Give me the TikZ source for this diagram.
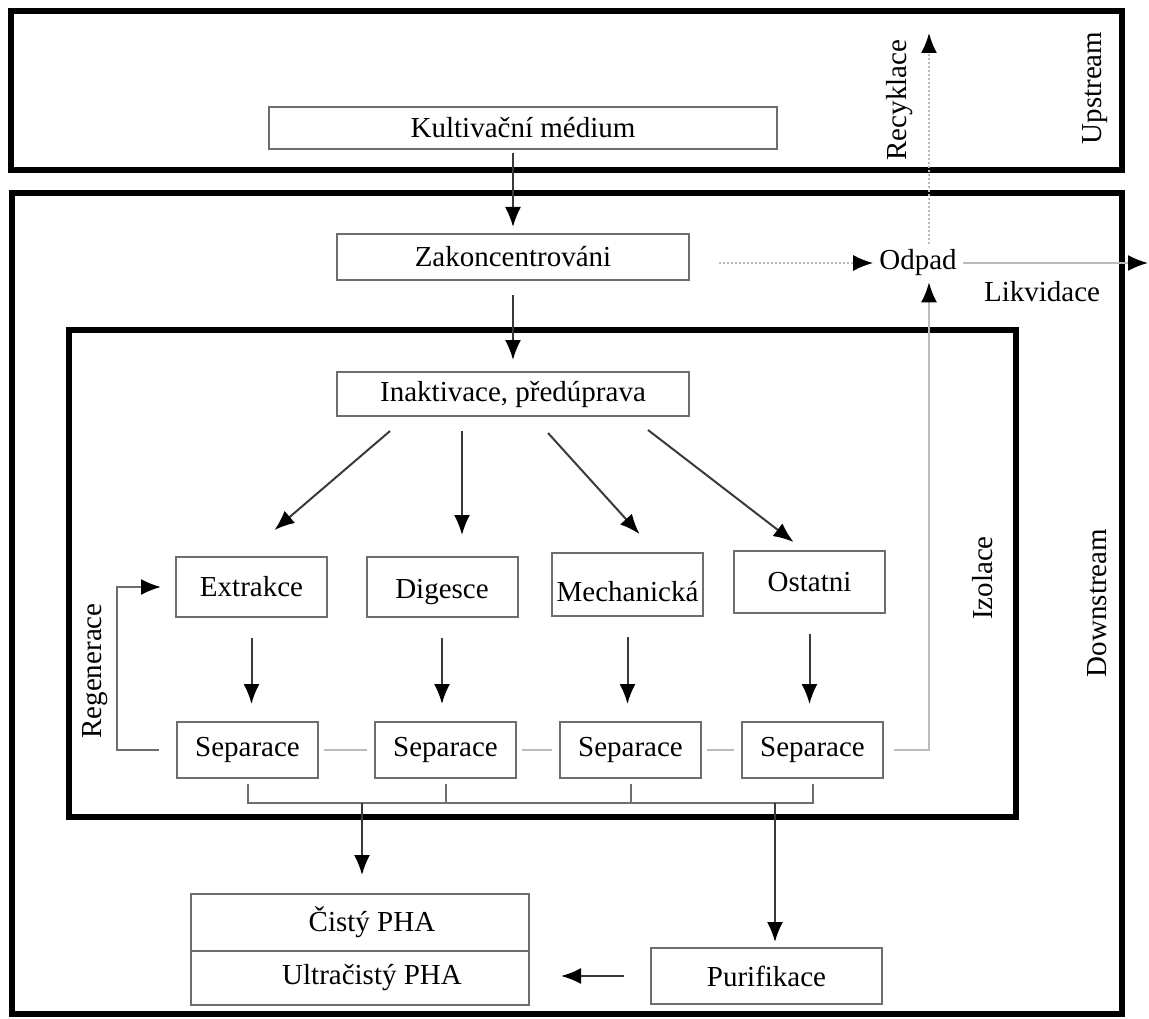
\documentclass[tikz,border=0pt]{standalone}
\usepackage{fontspec}
\setmainfont{Liberation Serif}
\usetikzlibrary{arrows.meta, positioning}
\definecolor{boxgray}{HTML}{6E6E6E}
\definecolor{palegray}{HTML}{BBBBBB}
\definecolor{arrowgray}{HTML}{3A3A3A}

\begin{document}
\begin{tikzpicture}[
    x=1pt, y=-1pt,
    font=\fontsize{29}{34}\selectfont,
    box/.style={draw=boxgray, line width=2pt, rectangle, inner sep=0pt, minimum width=151pt, minimum height=60pt},
    frame/.style={draw=black, line width=6pt},
    arrow/.style={-{Latex[length=20pt,width=16pt,color=black]}, line width=2pt, draw=arrowgray},
    palearrow/.style={-{Latex[length=20pt,width=16pt,color=black]}, line width=2pt, draw=palegray},
    dotarrow/.style={palearrow, dash pattern=on 2pt off 2pt},
    link/.style={draw=boxgray, line width=2pt},
    pale/.style={draw=palegray, line width=2pt},
    sidelabel/.style={rotate=90, inner sep=0pt}
]
\useasboundingbox (0,0) rectangle (1149,1019);

% Frames
\draw[frame] (11,11) rectangle (1122,170);
\draw[frame] (12,193) rectangle (1122,1014);
\draw[frame] (69,330) rectangle (1016,817);

% Nodes
\node (kult) [box, minimum width=508pt, minimum height=42pt] at (523,128) {Kultivační médium};
\node (zak) [box, minimum width=352pt, minimum height=46pt] at (513,257) {Zakoncentrováni};
\node (inakt) [box, minimum width=352pt, minimum height=44pt] at (513,394) {Inaktivace, předúprava};

\node (extr) [box] at (251.5,587) {Extrakce};
\node (dig) [box, text height=24pt, text depth=2pt] at (442,587) {Digesce};
\node (mech) [box, minimum height=63pt, text height=34pt, text depth=0pt] at (627.5,584.5) {Mechanická};
\node (ost) [box, minimum height=62pt] at (809.5,582) {Ostatni};

\node (sep1) [box, minimum width=141pt, minimum height=56pt] at (247.5,750) {Separace};
\node (sep2) [box, minimum width=141pt, minimum height=56pt] at (445.5,750) {Separace};
\node (sep3) [box, minimum width=141pt, minimum height=56pt] at (630.5,750) {Separace};
\node (sep4) [box, minimum width=141pt, minimum height=56pt] at (812.5,750) {Separace};

\node (cisty) [box, minimum width=338pt, minimum height=57pt] at (360,922.5) {\hspace*{24pt}Čistý PHA};
\node (ultra) [box, minimum width=338pt, minimum height=54pt, below=-2pt of cisty] {\hspace*{24pt}Ultračistý PHA};
\node (puri) [box, minimum width=231pt, minimum height=56pt] at (766.5,976) {Purifikace};

\node (odpad) [inner sep=6pt] at (918,263) {Odpad};
\node (likv) at (1042,292) {Likvidace};

% Side labels
\node (recl) [sidelabel] at (900,100) {Recyklace};
\node (upl) [sidelabel] at (1095,88) {Upstream};
\node (downl) [sidelabel] at (1097,603) {Downstream};
\node (izol) [sidelabel] at (983,578) {Izolace};
\node (regl) [sidelabel] at (95,671) {Regenerace};

\coordinate (rec) at (929,33);
\coordinate (out) at (1148,263);
\coordinate (brk) at (0,803);
\coordinate (b1) at (362,803);
\coordinate (b2) at (775,803);

% Connections
\draw[arrow] ([yshift=-3pt]kult.south -| zak.north) -- ([yshift=6pt]zak.north);
\draw[arrow] ([yshift=-14pt]zak.south) -- ([yshift=11pt]inakt.north);

\draw[arrow] ([xshift=-123pt,yshift=-14pt]inakt.south) -- ([xshift=23pt,yshift=26pt]extr.north);
\draw[arrow] ([xshift=-51pt,yshift=-14pt]inakt.south) -- ([xshift=20pt,yshift=21pt]dig.north);
\draw[arrow] ([xshift=35pt,yshift=-16pt]inakt.south) -- ([xshift=12pt,yshift=18pt]mech.north);
\draw[arrow] ([xshift=135pt,yshift=-13pt]inakt.south) -- ([xshift=-16pt,yshift=8pt]ost.north);

\foreach \a/\b in {extr/sep1, dig/sep2, mech/sep3, ost/sep4}
    \draw[arrow] ([yshift=-20pt]\a.south) -- ([yshift=17pt]\b.north -| \a.south);

\draw[pale] ([xshift=5pt]sep1.east) -- ([xshift=-7pt]sep2.west);
\draw[pale] ([xshift=5pt]sep2.east) -- ([xshift=-7pt]sep3.west);
\draw[pale] ([xshift=5pt]sep3.east) -- ([xshift=-7pt]sep4.west);

\draw[link, -{Latex[length=20pt,width=16pt,color=black]}] ([xshift=-17pt]sep1.west) -- ++(-42,0) |- ([xshift=-14pt]extr.west);

\draw[link] ([yshift=-5pt]sep1.south) -- (sep1.south |- brk) -- (sep4.south |- brk) -- ([yshift=-5pt]sep4.south);
\draw[link] ([yshift=-5pt]sep2.south) -- (sep2.south |- brk);
\draw[link] ([yshift=-5pt]sep3.south) -- (sep3.south |- brk);
\draw[arrow] (b1) -- ([yshift=18pt]cisty.north -| b1);
\draw[arrow] (b2) -- ([yshift=5pt]puri.north -| b2);
\draw[arrow] ([xshift=-26pt]puri.west) -- ([xshift=31pt]ultra.east |- puri.west);

\draw[dotarrow] ([xshift=29pt]zak.east |- odpad.west) -- (odpad.west);
\draw[palearrow] (odpad.east) -- (out);
\draw[dotarrow] (odpad.north -| rec) -- (rec);
\draw[palearrow] ([xshift=10pt]sep4.east) -| (odpad.south -| rec);

\end{tikzpicture}
\end{document}
